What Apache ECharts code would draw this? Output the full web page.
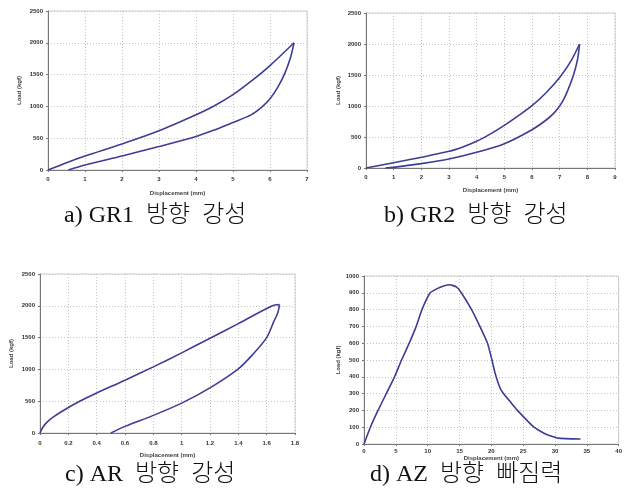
<!DOCTYPE html>
<html>
<head>
<meta charset="utf-8">
<script src="https://cdn.jsdelivr.net/npm/echarts@6/dist/echarts.min.js"></script>
<style>
  html, body { margin: 0; padding: 0; background: #fff; }
  #chart { width: 625px; height: 493px; }
</style>
</head>
<body>
<div id="chart"></div>
<script>
// data, [displacement, load]
const gr1Loading = [[0, 0], [0.5, 115], [1, 220], [2, 410], [3, 616], [4, 868], [4.5, 1010], [5, 1184], [5.5, 1400], [6, 1642], [6.65, 2000]]
const gr1Unloading = [[6.65, 2000], [6.55, 1760], [6.4, 1520], [6.2, 1290], [6.0, 1120], [5.8, 1000], [5.5, 870], [5, 747], [4.5, 630], [4, 526], [3, 368], [2, 221], [1, 79], [0.55, 0]]
const gr2Loading = [[0, 0], [1, 86], [2, 172], [3, 269], [3.5, 340], [4, 430], [4.5, 550], [5, 688], [5.5, 840], [6, 1005], [6.5, 1210], [7, 1460], [7.4, 1720], [7.72, 2000]]
const gr2Unloading = [[7.72, 2000], [7.65, 1760], [7.5, 1500], [7.3, 1260], [7.15, 1110], [7, 1000], [6.8, 890], [6.5, 770], [6, 618], [5, 392], [4, 253], [3, 145], [2, 70], [1, 10], [0.7, 0]]
const arLoading = [[0, 0], [0.02, 90], [0.05, 170], [0.1, 260], [0.2, 400], [0.28, 500], [0.4, 630], [0.6, 830], [0.8, 1040], [1.0, 1260], [1.2, 1490], [1.4, 1720], [1.64, 2000], [1.69, 2020]]
const arUnloading = [[1.69, 2020], [1.68, 1900], [1.65, 1750], [1.6, 1500], [1.5, 1230], [1.4, 1008], [1.2, 710], [1.0, 470], [0.8, 277], [0.6, 104], [0.5, 0]]
const azPullout = [[0, 0], [1, 100], [2.2, 200], [3.5, 300], [4.8, 400], [5.9, 500], [7.1, 600], [8.2, 700], [9.1, 800], [10.4, 900], [11.5, 925], [12.5, 940], [13.5, 948], [14.5, 935], [15.2, 905], [16.9, 800], [18.2, 700], [19.4, 600], [20.1, 500], [20.6, 420], [21.4, 330], [21.9, 300], [23, 250], [24.1, 200], [26.7, 100], [28.5, 60], [30.5, 35], [34, 30]]

const xRanges = [[0, 7, 1], [0, 9, 1], [0, 1.8, 0.2], [0, 40, 5]]
const yRanges = [[0, 2500, 500], [0, 2500, 500], [0, 2500, 500], [0, 1000, 100]]
const captions = ['a) GR1  방향  강성', 'b) GR2  방향  강성', 'c) AR  방향  강성', 'd) AZ  방향  빠짐력']

const lineColor = '#3d3d98'
const tickFont = { fontSize: 6, fontWeight: 'bold', color: '#333', fontFamily: 'Liberation Sans' }
const nameFont = { fontSize: 6, fontWeight: 'bold', color: '#444', fontFamily: 'Liberation Sans' }

const grids = [
  { left: 48, top: 11, width: 259, height: 159 },
  { left: 366, top: 13, width: 249, height: 155 },
  { left: 40, top: 274, width: 255, height: 159 },
  { left: 364, top: 276, width: 255, height: 168 },
]
const xNameGap = [20, 19, 19, 3]
const xLabelMargin = [6, 6, 7, 4]
const yNameGap = [26, 25, 26, 23]

const myChart = echarts.init(document.getElementById('chart'))

function axisCommon() {
  return {
    type: 'value',
    nameLocation: 'middle',
    nameTextStyle: nameFont,
    axisLine: { show: true, lineStyle: { color: '#777', width: 1 } },
    axisTick: { show: true, length: 2, lineStyle: { color: '#777' } },
    splitLine: { show: true, lineStyle: { color: '#c4c4c4', type: [1, 2] } },
  }
}

const plainNumber = (v) => String(+v.toFixed(2))

const option = {
  animation: false,
  backgroundColor: '#fff',
  grid: grids.map((g) => ({ ...g, show: true, borderColor: '#cfcfcf', borderWidth: 1 })),
  xAxis: xRanges.map((r, i) => ({
    ...axisCommon(),
    gridIndex: i,
    min: r[0],
    max: r[1],
    interval: r[2],
    name: 'Displacement (mm)',
    nameGap: xNameGap[i],
    axisLabel: { ...tickFont, margin: xLabelMargin[i], showMaxLabel: true, formatter: plainNumber },
  })),
  yAxis: yRanges.map((r, i) => ({
    ...axisCommon(),
    gridIndex: i,
    min: r[0],
    max: r[1],
    interval: r[2],
    name: 'Load (kgf)',
    nameGap: yNameGap[i],
    axisLabel: { ...tickFont, margin: 5, formatter: plainNumber },
  })),
  series: [
    [gr1Loading, 0], [gr1Unloading, 0],
    [gr2Loading, 1], [gr2Unloading, 1],
    [arLoading, 2], [arUnloading, 2],
    [azPullout, 3],
  ].map(([data, idx]) => ({
    type: 'line',
    xAxisIndex: idx,
    yAxisIndex: idx,
    data,
    smooth: idx === 3 ? 0.15 : 0.3,
    showSymbol: false,
    lineStyle: { color: lineColor, width: 1.6 },
  })),
  graphic: [
    [64, 217], [384, 217], [65, 476], [370, 476],
  ].map(([x, y], i) => ({
    type: 'text',
    left: x,
    top: y - 13,
    style: {
      text: captions[i],
      fontSize: 24,
      fontFamily: '"Liberation Serif", "Noto Sans CJK KR"',
      fontWeight: 300,
      fill: '#111',
    },
  })),
}
myChart.setOption(option)
</script>
</body>
</html>
